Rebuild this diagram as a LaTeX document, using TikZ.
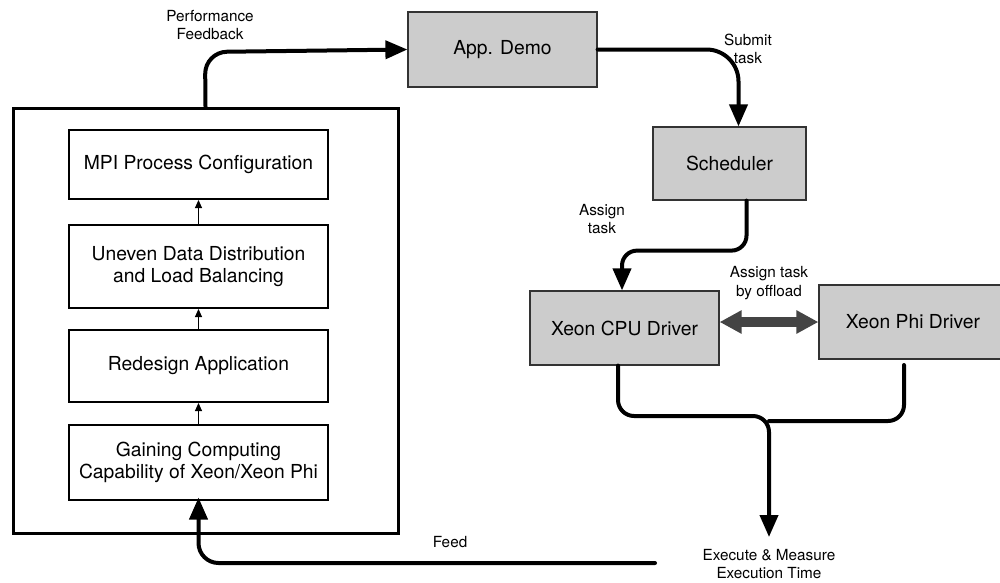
\documentclass[tikz,border=0pt]{standalone}
\usepackage{fontspec}
\setmainfont{TeX Gyre Heros}
\usetikzlibrary{arrows.meta,calc}
\definecolor{boxgray}{HTML}{CCCCCC}
\definecolor{dblgray}{HTML}{444444}
\tikzset{
  graybox/.style={draw=black!80, line width=1.2pt, fill=boxgray, align=center, font=\fontsize{19.3}{22}\selectfont, inner sep=0pt},
  stagebox/.style={draw=black, line width=2pt, fill=white, align=center, minimum width=259pt, font=\fontsize{19.3}{22}\selectfont, inner sep=0pt},
  thickarrow/.style={line width=4pt, line cap=round, -{Triangle[length=22pt,width=18pt]}},
  thickline/.style={line width=4pt, line cap=round},
  smallarrow/.style={line width=1pt, -{Triangle[length=8pt,width=7pt]}},
  lbl/.style={align=center, font=\fontsize{15.3}{18.5}\selectfont, inner sep=0pt},
}
\begin{document}
\begin{tikzpicture}[x=1pt,y=-1pt]
\useasboundingbox (0,0) rectangle (1000,582);
\clip (0,0) rectangle (1000,582);
% outer box
\node[draw=black, line width=3pt, minimum width=385pt, minimum height=425pt, inner sep=0pt] (big) at (205.5,320.5) {};
% stages
\node[stagebox, minimum height=69pt] (mpi) at (198.5,164.5) {MPI Process Configuration};
\node[stagebox, minimum height=83pt] (uneven) at (198.5,266.5) {Uneven Data Distribution\\and Load Balancing};
\node[stagebox, minimum height=72pt] (redesign) at (198.5,366) {Redesign Application};
\node[stagebox, minimum height=75pt] (gaining) at (198.5,462) {Gaining Computing\\Capability of Xeon/Xeon Phi};
\draw[smallarrow] (uneven.north) -- (mpi.south);
\draw[smallarrow] (redesign.north) -- (uneven.south);
\draw[smallarrow] (gaining.north) -- (redesign.south);
% gray boxes
\node[graybox, minimum width=189pt, minimum height=75pt] (app) at (502.5,49.5) {App. Demo};
\node[graybox, minimum width=153pt, minimum height=73pt] (sched) at (729.5,163.5) {Scheduler};
\node[graybox, minimum width=189pt, minimum height=74pt] (cpu) at (624.5,328) {Xeon CPU Driver};
\node[graybox, minimum width=188pt, minimum height=74pt] (phi) at (913,322) {Xeon Phi Driver};
% connectors
\draw[thickarrow, rounded corners=22pt] (big.north) -- (205,52) -- (app.west);
\draw[thickarrow, rounded corners=32pt] (app.east) -| ([xshift=9pt]sched.north);
\draw[thickarrow, rounded corners=15pt] ([xshift=17pt]sched.south) -- ++(0,50) -| ([xshift=-2.5pt]cpu.north);
\draw[line width=10pt, draw=dblgray, {Triangle[length=22pt,width=22pt]}-{Triangle[length=22pt,width=22pt]}] (cpu.east |- phi.west) -- (phi.west);
\coordinate (merge) at (769,537);
\coordinate (phistart) at (904,365);
\draw[thickarrow, rounded corners=16pt] ([xshift=-6.5pt]cpu.south) |- (769,416) -- (merge);
\draw[thickline, rounded corners=16pt] (phistart) |- (769,421);
\coordinate (feedstart) at (655,563);
\draw[thickarrow, rounded corners=20pt] (feedstart) -| ([yshift=3pt]gaining.south);
% labels
\node[lbl] (lperf) at (210,25) {Performance\\Feedback};
\node[lbl] (lsubmit) at (748,49) {Submit\\task};
\node[lbl] (lassign) at (602,219) {Assign\\task};
\node[lbl] (loffload) at (769,283) {Assign task\\by offload};
\node[lbl] (lfeed) at (450,542) {Feed};
\node[lbl] (lexec) at (769,564) {Execute \& Measure\\Execution Time};
\end{tikzpicture}
\end{document}
